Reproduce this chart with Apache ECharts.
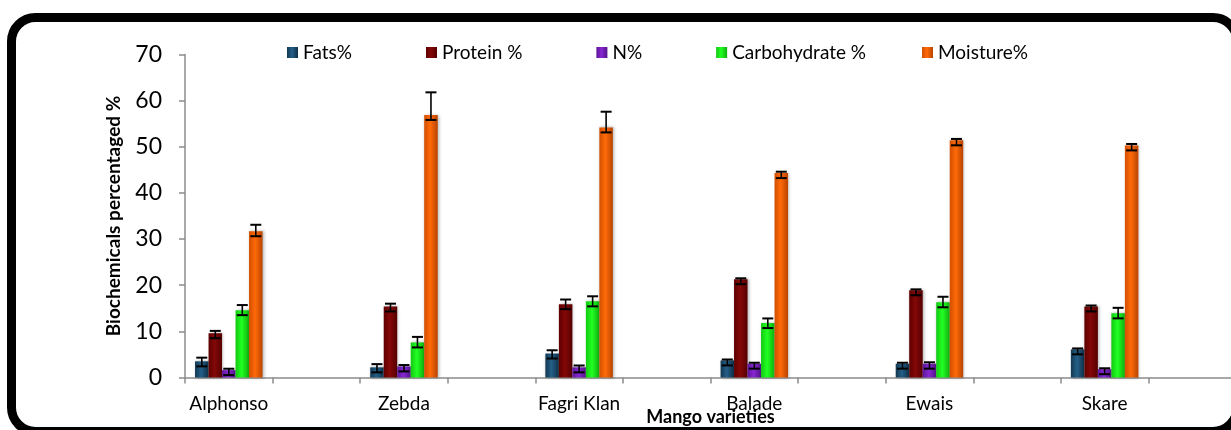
<!DOCTYPE html>
<html>
<head>
<meta charset="utf-8">
<script src="https://cdn.jsdelivr.net/npm/echarts@6/dist/echarts.min.js"></script>
<style>
  html, body { margin: 0; padding: 0; background: #fff; }
  #main { width: 1231px; height: 430px; }
</style>
</head>
<body>
<div id="main"></div>
<script>
// varieties (every other slot on the axis is left empty, as in the original)
var varieties = ['Alphonso', 'Zebda', 'Fagri Klan', 'Balade', 'Ewais', 'Skare'];
var seriesNames = ['Fats%', 'Protein %', 'N%', 'Carbohydrate %', 'Moisture%'];

var fats     = [3.5, 2.2, 5.2, 3.7, 3.0, 6.1];
var protein  = [9.6, 15.4, 15.9, 21.3, 18.9, 15.4];
var nitrogen = [1.6, 2.4, 2.2, 3.0, 3.0, 1.8];
var carbo    = [14.6, 7.6, 16.5, 11.8, 16.3, 13.9];
var moisture = [31.7, 56.9, 54.2, 44.3, 51.4, 50.3];

// upper error bar lengths
var fatsErr     = [0.8, 0.7, 0.7, 0.2, 0.2, 0.2];
var proteinErr  = [0.5, 0.6, 1.0, 0.2, 0.2, 0.2];
var nitrogenErr = [0.3, 0.3, 0.4, 0.2, 0.3, 0.2];
var carboErr    = [1.1, 1.2, 1.1, 1.0, 1.2, 1.2];
var moistureErr = [1.4, 4.9, 3.4, 0.3, 0.3, 0.3];

var yTicks = [0, 10, 20, 30, 40, 50, 60, 70];

var allValues = [fats, protein, nitrogen, carbo, moisture];
var allErrors = [fatsErr, proteinErr, nitrogenErr, carboErr, moistureErr];

var BAR_W = 13.5;
var FONT = 'Lato, "Open Sans", sans-serif';

function grad(dark, mid, dark2) {
  return new echarts.graphic.LinearGradient(0, 0, 1, 0, [
    {offset: 0, color: dark},
    {offset: 0.45, color: mid},
    {offset: 1, color: dark2}
  ]);
}
var colors = [
  grad('#123750', '#245f88', '#0f3048'),
  grad('#5e0000', '#840808', '#560000'),
  grad('#5e1598', '#8628d2', '#55128a'),
  grad('#12c812', '#22ff22', '#0eb00e'),
  grad('#d24e00', '#ff6a08', '#b84400')
];

// spread the six varieties over twelve slots
var slots = [];
varieties.forEach(function (v) { slots.push(v); slots.push(''); });

function spread(arr) {
  var out = [];
  arr.forEach(function (v) { out.push(v); out.push('-'); });
  return out;
}

function errData(vals, errs) {
  return vals.map(function (v, i) { return [i * 2, v, errs[i]]; });
}

function errRender(k) {
  var off = (k - 2) * BAR_W;
  return function (params, api) {
    var idx = api.value(0), v = api.value(1), e = api.value(2);
    var top = api.coord([idx, v]);
    var hi = api.coord([idx, v + e]);
    var x = top[0] + off;
    var y0 = top[1] + 5, y1 = hi[1];
    return {
      type: 'group',
      children: [
        {type: 'line', shape: {x1: x, y1: y0, x2: x, y2: y1}, style: {stroke: '#000', lineWidth: 1.6}},
        {type: 'line', shape: {x1: x - 5.5, y1: y0, x2: x + 5.5, y2: y0}, style: {stroke: '#000', lineWidth: 2}},
        {type: 'line', shape: {x1: x - 5.5, y1: y1, x2: x + 5.5, y2: y1}, style: {stroke: '#000', lineWidth: 2}}
      ]
    };
  };
}

var series = [];
seriesNames.forEach(function (name, k) {
  series.push({
    name: name,
    type: 'bar',
    barWidth: BAR_W,
    barGap: '0%',
    data: spread(allValues[k]),
    itemStyle: {
      color: colors[k],
      shadowColor: 'rgba(0,0,0,0.3)',
      shadowBlur: 3,
      shadowOffsetX: 1
    }
  });
});
seriesNames.forEach(function (name, k) {
  series.push({
    type: 'custom',
    z: 5,
    silent: true,
    renderItem: errRender(k),
    encode: {x: 0, y: 1},
    data: errData(allValues[k], allErrors[k])
  });
});

var legendBase = {
  top: 38,
  itemWidth: 11,
  itemHeight: 11,
  itemGap: 74,
  icon: 'rect',
  textStyle: {fontFamily: FONT, fontSize: 19, color: '#000'}
};

var myChart = echarts.init(document.getElementById('main'));
myChart.setOption({
  animation: false,
  backgroundColor: '#fff',
  textStyle: {fontFamily: FONT},
  graphic: [{
    type: 'rect',
    shape: {x: 11.5, y: 17.5, width: 1225.5, height: 414, r: 24},
    style: {fill: 'none', stroke: '#000', lineWidth: 9}
  }],
  legend: [
    Object.assign({}, legendBase, {data: seriesNames.slice(0, 4), left: 282}),
    Object.assign({}, legendBase, {data: seriesNames.slice(4), left: 917})
  ],
  grid: {left: 185, top: 54.5, width: 1051, height: 323, outerBoundsMode: 'none', containLabel: false},
  xAxis: {
    type: 'category',
    data: slots,
    name: 'Mango varieties',
    nameLocation: 'middle',
    nameGap: 31,
    nameMoveOverlap: false,
    nameTextStyle: {fontFamily: FONT, fontSize: 18, fontWeight: 'bold', color: '#000'},
    axisLine: {lineStyle: {color: '#8c8c8c', width: 1.5}},
    axisTick: {show: true, length: 6, interval: 0, lineStyle: {color: '#8c8c8c', width: 1.5}},
    axisLabel: {interval: 0, margin: 17, fontFamily: FONT, fontSize: 19, color: '#000'}
  },
  yAxis: {
    type: 'value',
    min: yTicks[0],
    max: yTicks[yTicks.length - 1],
    interval: 10,
    name: 'Biochemicals percentaged %',
    nameLocation: 'middle',
    nameRotate: 90,
    nameGap: 62,
    nameMoveOverlap: false,
    nameTextStyle: {fontFamily: FONT, fontSize: 19, fontWeight: 'bold', color: '#000'},
    axisLine: {show: true, lineStyle: {color: '#8c8c8c', width: 1.5}},
    axisTick: {show: true, length: 6, lineStyle: {color: '#8c8c8c', width: 1.5}},
    axisLabel: {margin: 23, fontFamily: FONT, fontSize: 23, color: '#000'},
    splitLine: {show: false}
  },
  series: series
});
</script>
</body>
</html>
